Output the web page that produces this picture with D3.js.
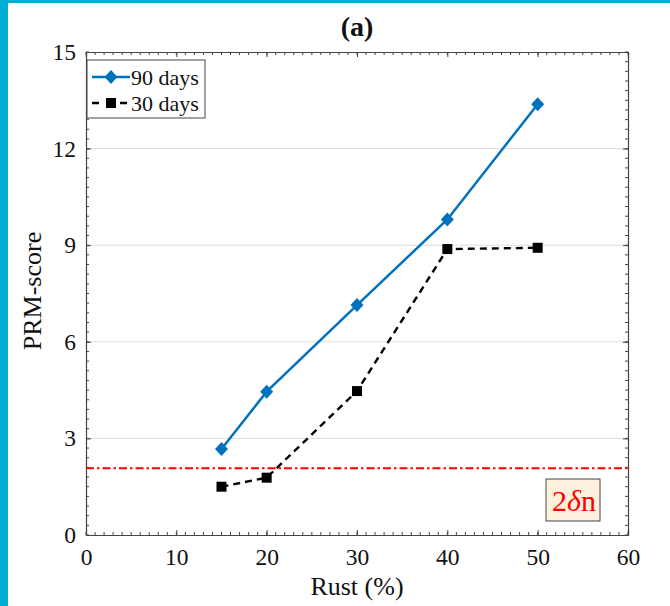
<!DOCTYPE html>
<html><head><meta charset="utf-8">
<script src="https://cdn.jsdelivr.net/npm/d3@7"></script>
<style>
html,body{margin:0;padding:0;background:#fff;}
svg{display:block;}
text{font-family:"Liberation Serif","Times New Roman",serif;}
</style></head>
<body>
<script>
const rust = [15, 20, 30, 40, 50];
const days90 = [2.67, 4.45, 7.14, 9.80, 13.38];
const days30 = [1.50, 1.78, 4.47, 8.88, 8.92];
const threshold = 2.07;
const xTicks = [0, 10, 20, 30, 40, 50, 60];
const yTicks = [0, 3, 6, 9, 12, 15];
const seriesNames = ["90 days", "30 days"];

const W = 670, H = 606;
const svg = d3.select("body").append("svg").attr("width", W).attr("height", H);

// cyan frame
svg.append("rect").attr("x",0).attr("y",0).attr("width",W).attr("height",3).attr("fill","#00AED3");
svg.append("rect").attr("x",0).attr("y",0).attr("width",8).attr("height",H).attr("fill","#00AED3");

const L = 86, R = 628, T = 52, B = 535;
const x = d3.scaleLinear().domain([0,60]).range([L,R]);
const y = d3.scaleLinear().domain([0,15]).range([B,T]);

// grid
svg.append("g").selectAll("line").data(yTicks.filter(v=>v>0 && v<15)).join("line")
  .attr("x1",L).attr("x2",R).attr("y1",d=>y(d)).attr("y2",d=>y(d))
  .attr("stroke","#dcdcdc").attr("stroke-width",1);

// axes
const axisColor = "#444";
const xMinor = d3.range(0,61,1), yMinor = d3.range(0,15.001,0.3);
const ax = svg.append("g");
const gB = ax.append("g").attr("transform",`translate(0,${B})`)
  .call(d3.axisBottom(x).tickValues(xTicks).tickSize(-5).tickPadding(13).tickFormat(d3.format("d")));
const gT = ax.append("g").attr("transform",`translate(0,${T})`)
  .call(d3.axisTop(x).tickValues(xTicks).tickSize(-5).tickFormat(""));
const gL = ax.append("g").attr("transform",`translate(${L},0)`)
  .call(d3.axisLeft(y).tickValues(yTicks).tickSize(-5).tickPadding(10).tickFormat(d3.format("d")));
const gR = ax.append("g").attr("transform",`translate(${R},0)`)
  .call(d3.axisRight(y).tickValues(yTicks).tickSize(-5).tickFormat(""));
[gB,gT,gL,gR].forEach(g=>{
  g.select(".domain").attr("stroke",axisColor).attr("stroke-width",1.2);
  g.selectAll(".tick line").attr("stroke",axisColor);
  g.selectAll("text").attr("font-size",23.5).attr("fill","#111")
    .attr("font-family","Liberation Serif, Times New Roman, serif");
});
gB.selectAll("text").attr("dy","0.71em");
// minor ticks
ax.append("g").selectAll("line").data(xMinor).join("line")
  .attr("x1",d=>x(d)).attr("x2",d=>x(d)).attr("y1",B).attr("y2",B-3).attr("stroke",axisColor);
ax.append("g").selectAll("line").data(xMinor).join("line")
  .attr("x1",d=>x(d)).attr("x2",d=>x(d)).attr("y1",T).attr("y2",T+3).attr("stroke",axisColor);
ax.append("g").selectAll("line").data(yMinor).join("line")
  .attr("x1",L).attr("x2",L+3).attr("y1",d=>y(d)).attr("y2",d=>y(d)).attr("stroke",axisColor);
ax.append("g").selectAll("line").data(yMinor).join("line")
  .attr("x1",R).attr("x2",R-3).attr("y1",d=>y(d)).attr("y2",d=>y(d)).attr("stroke",axisColor);

// threshold line
svg.append("line").attr("x1",L).attr("x2",R).attr("y1",y(threshold)).attr("y2",y(threshold))
  .attr("stroke","#f00").attr("stroke-width",2).attr("stroke-dasharray","8,3,2.5,3");

const line = d3.line().x(d=>x(d[0])).y(d=>y(d[1]));
const blue = "#0072BD";
const d90 = rust.map((r,i)=>[r,days90[i]]);
const d30 = rust.map((r,i)=>[r,days30[i]]);

svg.append("path").datum(d30).attr("d",line).attr("fill","none")
  .attr("stroke","#000").attr("stroke-width",2.4).attr("stroke-dasharray","7,5");
svg.append("g").selectAll("rect").data(d30).join("rect")
  .attr("x",d=>x(d[0])-5).attr("y",d=>y(d[1])-5).attr("width",10).attr("height",10).attr("fill","#000");

svg.append("path").datum(d90).attr("d",line).attr("fill","none")
  .attr("stroke",blue).attr("stroke-width",2.5);
const diamond = "M0,-7L6.5,0L0,7L-6.5,0Z";
svg.append("g").selectAll("path").data(d90).join("path")
  .attr("d",diamond).attr("transform",d=>`translate(${x(d[0])},${y(d[1])})`).attr("fill",blue);

// legend
const lg = svg.append("g");
lg.append("rect").attr("x",87).attr("y",60).attr("width",118).attr("height",58)
  .attr("fill","#fff").attr("stroke","#444").attr("stroke-width",1);
lg.append("line").attr("x1",92).attr("x2",130).attr("y1",77).attr("y2",77).attr("stroke",blue).attr("stroke-width",2.5);
lg.append("path").attr("d",diamond).attr("transform","translate(111,77)").attr("fill",blue);
lg.append("line").attr("x1",92).attr("x2",130).attr("y1",103).attr("y2",103).attr("stroke","#000").attr("stroke-width",2.4).attr("stroke-dasharray","7,7");
lg.append("rect").attr("x",106).attr("y",98).attr("width",10).attr("height",10).attr("fill","#000");
lg.selectAll("text").data(seriesNames).join("text")
  .attr("x",131).attr("y",(d,i)=>77+i*26).attr("dy","0.35em").attr("font-size",22).attr("fill","#111").text(d=>d);

// 2δn annotation
svg.append("rect").attr("x",546).attr("y",479).attr("width",54).attr("height",42)
  .attr("fill","#FDF0DC").attr("stroke","#444").attr("stroke-width",1);
const t = svg.append("text").attr("x",574).attr("y",511).attr("text-anchor","middle")
  .attr("font-size",30).attr("fill","#f00");
t.append("tspan").text("2");
t.append("tspan").attr("font-style","italic").text("δ");
t.append("tspan").text("n");

// titles
svg.append("text").attr("x",357).attr("y",36).attr("text-anchor","middle")
  .attr("font-size",28).attr("font-weight","bold").attr("fill","#111").text("(a)");
svg.append("text").attr("x",357).attr("y",595).attr("text-anchor","middle")
  .attr("font-size",26).attr("fill","#111").text("Rust (%)");
svg.append("text").attr("transform","translate(41,291) rotate(-90)").attr("text-anchor","middle")
  .attr("font-size",26).attr("fill","#111").text("PRM-score");
</script>
</body></html>
